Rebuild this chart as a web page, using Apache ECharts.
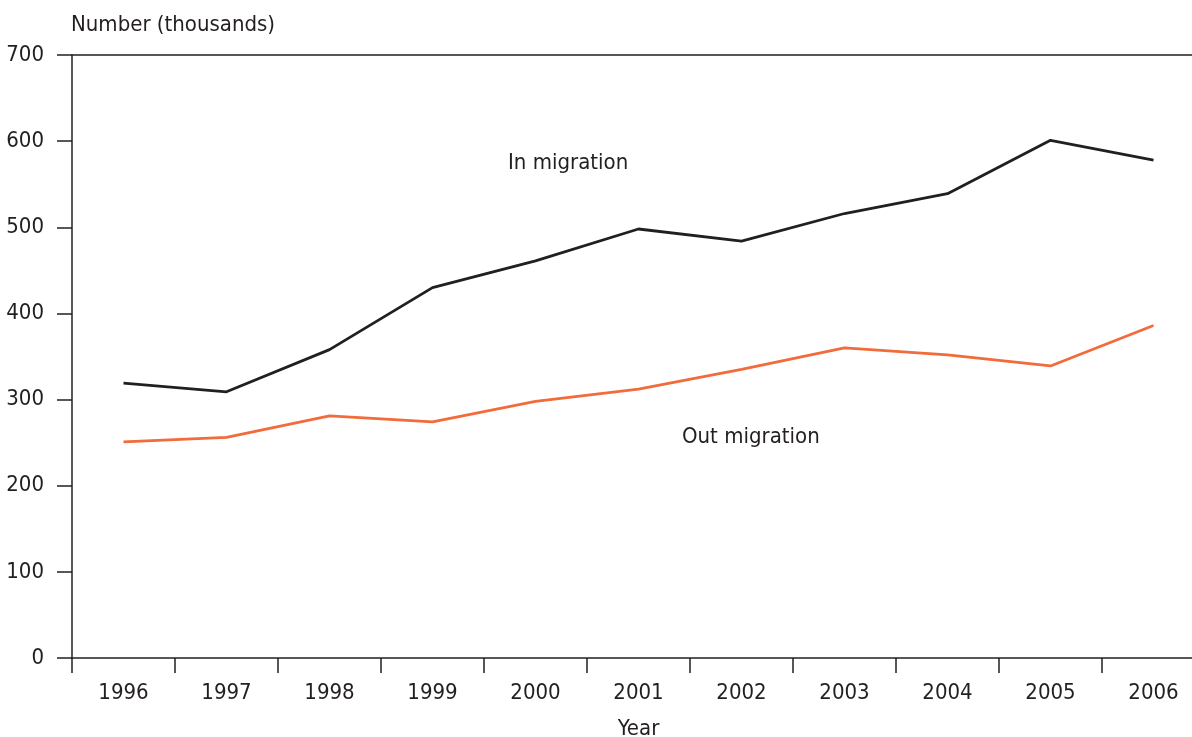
<!DOCTYPE html>
<html>
<head>
<meta charset="utf-8">
<script src="https://cdn.jsdelivr.net/npm/echarts@6/dist/echarts.min.js"></script>
<style>
  html, body { margin: 0; padding: 0; background: #fff; }
  #chart { width: 1192px; height: 737px; }
</style>
</head>
<body>
<div id="chart"></div>
<script>
// Data (thousands)
const years = ["1996", "1997", "1998", "1999", "2000", "2001", "2002", "2003", "2004", "2005", "2006"];
const inMigration = [319, 309, 358, 430, 461, 498, 484, 516, 539, 601, 578];
const outMigration = [251, 256, 281, 274, 298, 312, 335, 360, 352, 339, 386];
const yTicks = [0, 100, 200, 300, 400, 500, 600, 700];

const font = '"Liberation Sans Narrow", "DejaVu Sans Condensed", "Roboto", sans-serif';
const ink = '#231f20';
const orange = '#f26b3a';
const fs = 22;

const chart = echarts.init(document.getElementById('chart'));

const option = {
    animation: false,
    textStyle: { fontFamily: font },
    grid: { left: 72, right: -13, top: 55, bottom: 79, outerBoundsMode: 'none', containLabel: false },
    xAxis: [{
        type: 'category',
        data: years,
        boundaryGap: true,
        name: 'Year',
        nameLocation: 'middle',
        nameGap: 60,
        nameTextStyle: { fontFamily: font, fontSize: fs, color: ink },
        axisLine: { lineStyle: { color: ink, width: 1.5 } },
        axisTick: { show: true, interval: 0, length: 15, lineStyle: { color: ink, width: 1.5 } },
        axisLabel: { interval: 0, margin: 24, fontFamily: font, fontSize: fs, color: ink },
        splitLine: { show: false }
    }, {
        // top border line at 700
        type: 'category',
        data: years,
        position: 'top',
        axisLine: { show: true, lineStyle: { color: ink, width: 1.5 } },
        axisTick: { show: false },
        axisLabel: { show: false },
        splitLine: { show: false }
    }],
    yAxis: {
        type: 'value',
        min: yTicks[0],
        max: yTicks[yTicks.length - 1],
        interval: 100,
        name: 'Number (thousands)',
        nameLocation: 'end',
        nameGap: 19,
        nameTextStyle: { fontFamily: font, fontSize: fs, color: ink, align: 'left', padding: [0, 0, 0, -1] },
        axisLine: { show: true, lineStyle: { color: ink, width: 1.5 } },
        axisTick: { show: true, length: 15, lineStyle: { color: ink, width: 1.5 } },
        axisLabel: { margin: 28, fontFamily: font, fontSize: fs, color: ink },
        splitLine: { show: false }
    },
    series: [{
        name: 'In migration',
        type: 'line',
        data: inMigration,
        symbol: 'none',
        lineStyle: { color: ink, width: 2.8 },
        itemStyle: { color: ink }
    }, {
        name: 'Out migration',
        type: 'line',
        data: outMigration,
        symbol: 'none',
        lineStyle: { color: orange, width: 2.8 },
        itemStyle: { color: orange }
    }],
    graphic: [{
        type: 'text',
        left: 508,
        top: 152,
        style: { text: 'In migration', font: fs + 'px ' + font, fill: ink }
    }, {
        type: 'text',
        left: 682,
        top: 426,
        style: { text: 'Out migration', font: fs + 'px ' + font, fill: ink }
    }]
};

chart.setOption(option);
</script>
</body>
</html>
